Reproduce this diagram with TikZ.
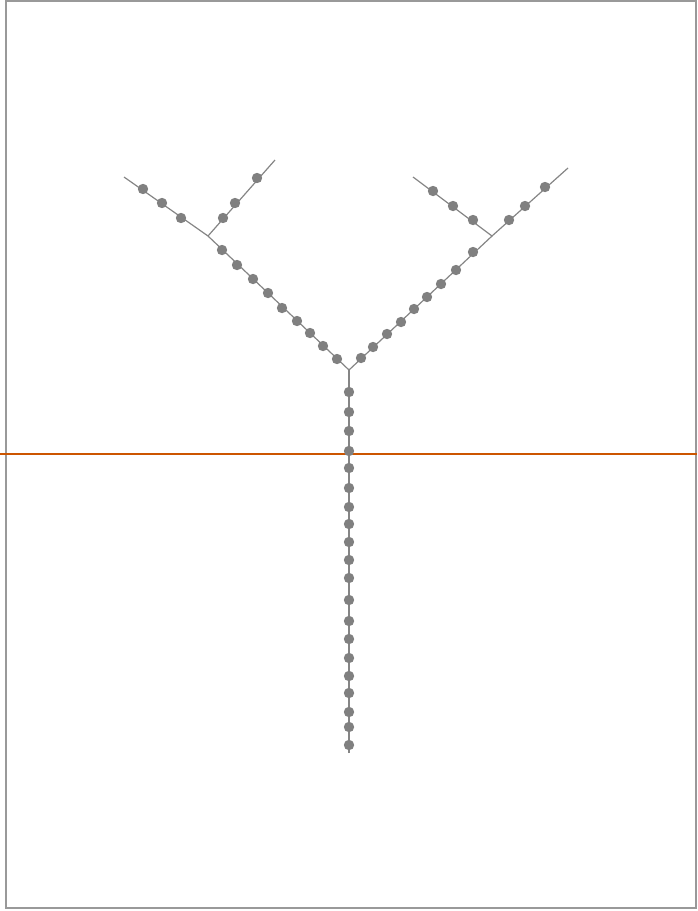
\documentclass[tikz,border=0pt]{standalone}
\definecolor{orangeline}{HTML}{CC5500}
\definecolor{dotgray}{HTML}{808080}
\definecolor{linegray}{HTML}{858585}
\definecolor{framegray}{HTML}{999999}
\begin{document}
\begin{tikzpicture}[x=0.75pt,y=-0.75pt,
  dotnode/.style={circle,fill=dotgray,inner sep=0pt,minimum size=7.8pt},
  twig/.style={draw=linegray,line width=0.9pt},
  trunkline/.style={draw=linegray,line width=1.5pt},
  framebox/.style={draw=framegray,line width=1.5pt}]
\useasboundingbox (0,0) rectangle (697,911);
\draw[framebox] (6,1) rectangle (696,908);
% key points
\coordinate (root) at (349,753);
\coordinate (fork) at (349,370);
\coordinate (lfork) at (208,236);
\coordinate (rfork) at (492,236);
\coordinate (llend) at (124,177);
\coordinate (lrend) at (275,160);
\coordinate (rlend) at (413,177);
\coordinate (rrend) at (568,168);
\draw[trunkline] (root) -- (fork);
\draw[twig] (fork) -- (lfork) -- (llend);
\draw[twig] (lfork) -- (lrend);
\draw[twig] (fork) -- (rfork) -- (rlend);
\draw[twig] (rfork) -- (rrend);
% orange line
\coordinate (ol) at (0,454);
\coordinate (or) at (697,454);
\draw[orangeline,line width=1.5pt] (ol) -- (or);
% trunk dots
\foreach \y [count=\i] in {392,412,431,451,468,488,507,524,542,560,578,600,621,639,658,676,693,712,727,745}
  \node[dotnode] (t\i) at (349,\y) {};
% left main branch dots
\foreach \x/\y [count=\i] in {222/250,237/265,253/279,268/293,282/308,297/321,310/333,323/346,337/359}
  \node[dotnode] (lm\i) at (\x,\y) {};
% right main branch dots
\foreach \x/\y [count=\i] in {361/358,373/347,387/334,401/322,414/309,427/297,441/284,456/270,473/252}
  \node[dotnode] (rm\i) at (\x,\y) {};
% left sub-branches
\foreach \x/\y [count=\i] in {143/189,162/203,181/218}
  \node[dotnode] (ll\i) at (\x,\y) {};
\foreach \x/\y [count=\i] in {223/218,235/203,257/178}
  \node[dotnode] (lr\i) at (\x,\y) {};
% right sub-branches
\foreach \x/\y [count=\i] in {433/191,453/206,473/220}
  \node[dotnode] (rl\i) at (\x,\y) {};
\foreach \x/\y [count=\i] in {509/220,525/206,545/187}
  \node[dotnode] (rr\i) at (\x,\y) {};
\end{tikzpicture}
\end{document}
